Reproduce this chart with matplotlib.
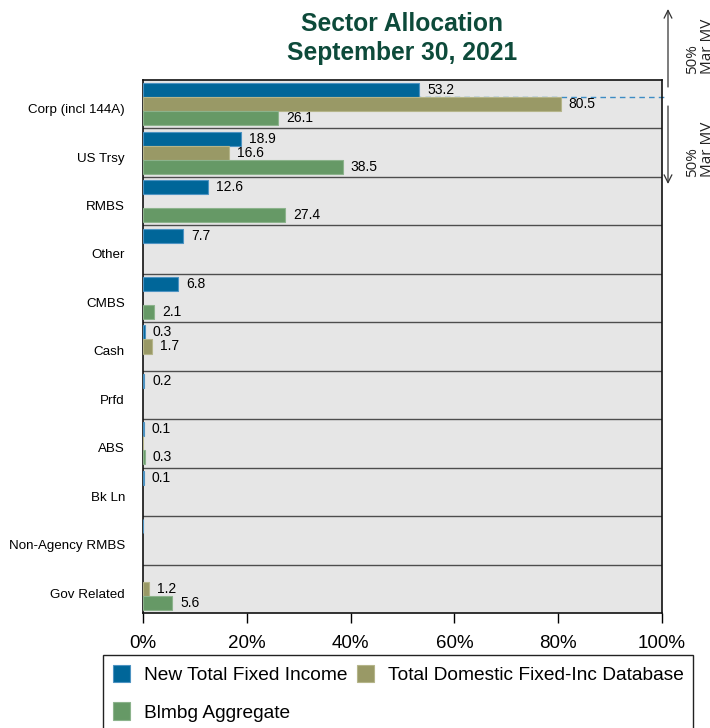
import matplotlib.pyplot as plt
import numpy as np

# sector allocation data (% of market value)
categories = ['Corp (incl 144A)', 'US Trsy', 'RMBS', 'Other', 'CMBS', 'Cash',
              'Prfd', 'ABS', 'Bk Ln', 'Non-Agency RMBS', 'Gov Related']
new_total = [53.2, 18.9, 12.6, 7.7, 6.8, 0.3, 0.2, 0.1, 0.1, 0.02, 0.0]
domestic_db = [80.5, 16.6, 0.0, 0.0, 0.0, 1.7, 0.0, 0.04, 0.0, 0.0, 1.2]
blmbg = [26.1, 38.5, 27.4, 0.0, 2.1, 0.0, 0.0, 0.3, 0.0, 0.0, 5.6]
series_names = ['New Total Fixed Income', 'Total Domestic Fixed-Inc Database', 'Blmbg Aggregate']
colors = ['#006699', '#999966', '#669966']
edge_colors = ['#4d93c2', '#b5b58a', '#8cb38c']

plt.rcParams['font.family'] = ['Liberation Sans', 'DejaVu Sans']

W, H = 710, 728
fig = plt.figure(figsize=(W / 100, H / 100), dpi=100)


def px(x, y):
    # pixel (from top-left) -> figure fraction
    return x / W, 1 - y / H


ax = fig.add_axes([143 / W, 1 - 613 / H, (662 - 143) / W, (613 - 80) / H])
ax.set_facecolor('#e6e6e6')

n = len(categories)
centers = np.arange(n) + 0.5
bar_h = 0.29
offsets = [-0.29, 0.0, 0.29]
handles = []
for vals, off, col, ecol, name in zip([new_total, domestic_db, blmbg], offsets, colors,
                                      edge_colors, series_names):
    vals = np.array(vals)
    ypos = centers + off
    keep = vals > 0
    bars = ax.barh(ypos[keep], vals[keep], height=bar_h, color=col, edgecolor=ecol,
                   linewidth=0.8, label=name, zorder=3)
    handles.append(bars)
    for y, v in zip(ypos, vals):
        if round(v, 1) > 0:
            ax.annotate(f'{v:.1f}', (v, y), xytext=(8, 0), textcoords='offset pixels',
                        va='center', ha='left', fontsize=10, zorder=4)

# row separators
for b in range(1, n):
    ax.axhline(b, color='#4d4d4d', lw=1, zorder=2)

# dashed 50% line through the corp row
ax.plot([0, 1.006], [0.35, 0.35], transform=ax.get_yaxis_transform(), ls=(0, (4, 3)),
        color='#3d8cc4', lw=1, clip_on=False, zorder=2)

ax.set_ylim(n, 0)
ax.set_xlim(0, 100)
ax.set_yticks(centers + 0.09)
ax.set_yticklabels(categories, fontsize=9.6)
ax.tick_params(axis='y', length=0, pad=13)
ax.set_xticks(np.arange(0, 101, 20))
ax.set_xticklabels([f'{t}%' for t in range(0, 101, 20)], fontsize=13.5)
ax.tick_params(axis='x', length=7, width=1, direction='out', pad=9)
for s in ax.spines.values():
    s.set_color('#111111')
    s.set_linewidth(1.2)

# title
fig.text(*px(402, 12), 'Sector Allocation\nSeptember 30, 2021', ha='center', va='top',
         fontsize=17.7, fontweight='bold', color='#0d4a3a', linespacing=1.25)

# 50% market value arrows on the right
ann_kw = dict(xycoords='figure fraction', textcoords='figure fraction',
              arrowprops=dict(arrowstyle='->', color='#333333', lw=0.9,
                              mutation_scale=14, shrinkA=0, shrinkB=0))
fig.add_artist(plt.Annotation('', xy=px(668, 9), xytext=px(668, 87), **ann_kw))
fig.add_artist(plt.Annotation('', xy=px(668, 184), xytext=px(668, 106), **ann_kw))
for yb in (74, 177):
    fig.text(*px(700, yb), '50%\nMar MV', rotation=90, ha='center', va='bottom',
             multialignment='left', fontsize=11, family=['Open Sans', 'DejaVu Sans'],
             color='#222222', linespacing=1.05)

# legend fills row-wise in the reference
order = [0, 2, 1]
leg = fig.legend([handles[i] for i in order], [series_names[i] for i in order],
                 loc='upper left', bbox_to_anchor=px(103, 655), ncol=2, fontsize=13.8,
                 frameon=True, fancybox=False, edgecolor='#222222', framealpha=1,
                 handlelength=0.9, handleheight=1.05, handletextpad=0.72,
                 columnspacing=0.5, labelspacing=0.95, borderaxespad=0, borderpad=0.5)
leg.get_frame().set_linewidth(1.0)

fig.savefig('out.png', dpi=100)
